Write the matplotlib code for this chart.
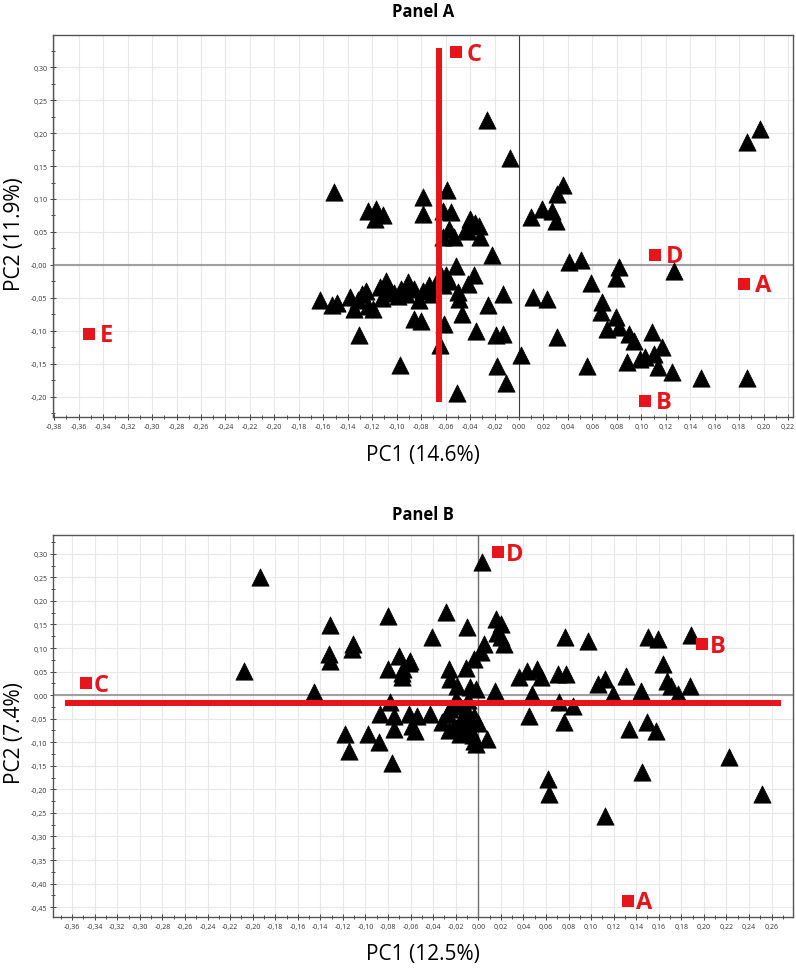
import numpy as np
import matplotlib
matplotlib.use('Agg')
from matplotlib import pyplot as plt
from matplotlib.ticker import MultipleLocator, FuncFormatter

plt.rcParams['font.family'] = ['Open Sans', 'DejaVu Sans']

# ---------------- Panel A data ----------------
a_tri_x = [-0.026, -0.007, 0.197, 0.186, -0.151, -0.1235, -0.117, -0.118, -0.111, -0.0787,
           -0.0787, -0.059, -0.0624, -0.0556, -0.057, -0.062, -0.053, -0.040, -0.0326, -0.042,
           -0.0318, -0.0217, -0.036, 0.0359, 0.0313, 0.019, 0.027, 0.0095, 0.030, 0.0407,
           0.0508, 0.082, 0.0793, 0.1268, 0.0587, 0.0114, 0.0231, -0.0127, -0.0257, 0.068,
           0.0674, 0.0796, 0.072, 0.0815, 0.0896, 0.0937, 0.109, 0.117, 0.110, 0.103,
           0.099, 0.088, 0.114, 0.125, 0.149, 0.1866, 0.0557, 0.0307, 0.002, -0.018,
           -0.011, -0.0507, -0.035, -0.019, -0.0135, -0.0467, -0.061, -0.065, -0.0367, -0.042,
           -0.0516, -0.0597, -0.064, -0.057, -0.050, -0.049, -0.043, -0.0904, -0.0787, -0.0815,
           -0.0855, -0.080, -0.097, -0.131, -0.163, -0.153, -0.149, -0.138, -0.132, -0.135,
           -0.125, -0.1235, -0.119, -0.114, -0.1086, -0.106, -0.099, -0.0964, -0.0855, -0.0665,
           -0.062, -0.128, -0.112, -0.102, -0.092, -0.071, -0.074]
a_tri_y = [0.2205, 0.162, 0.206, 0.186, 0.111, 0.0824, 0.085, 0.070, 0.075, 0.103,
           0.077, 0.113, 0.0824, 0.080, 0.0546, 0.042, 0.042, 0.070, 0.0597, 0.052,
           0.042, 0.015, 0.063, 0.121, 0.108, 0.085, 0.082, 0.072, 0.067, 0.004,
           0.0076, -0.0025, -0.020, -0.0086, -0.027, -0.049, -0.0516, -0.044, -0.061, -0.0557,
           -0.072, -0.079, -0.097, -0.0946, -0.105, -0.115, -0.102, -0.125, -0.135, -0.140,
           -0.143, -0.148, -0.155, -0.162, -0.172, -0.172, -0.154, -0.110, -0.137, -0.154,
           -0.179, -0.194, -0.0997, -0.106, -0.105, -0.074, -0.0895, -0.121, -0.016, -0.029,
           -0.002, -0.016, -0.016, -0.024, -0.041, -0.052, 0.0546, -0.026, -0.039, -0.054,
           -0.082, -0.0845, -0.152, -0.106, -0.054, -0.061, -0.058, -0.049, -0.054, -0.067,
           -0.039, -0.062, -0.067, -0.034, -0.024, -0.039, -0.047, -0.036, -0.036, -0.021,
           -0.031, -0.045, -0.050, -0.042, -0.045, -0.045, -0.030]

a_sq_x = [0.184, 0.103, -0.0516, 0.111, -0.3516]
a_sq_y = [-0.029, -0.206, 0.323, 0.0152, -0.1047]
a_sq_lab = ['A', 'B', 'C', 'D', 'E']
a_line_x = -0.0652
a_line_y = [-0.208, 0.330]

# ---------------- Panel B data ----------------
b_tri_x = [0.0036, 0.189, -0.0285, -0.0098, -0.041, 0.0154, 0.0199, 0.0169, 0.0228, 0.005,
           0.002, -0.004, -0.0113, -0.026, -0.0247, -0.0187, -0.0069, -0.0024, 0.0145, -0.0603,
           -0.0663, 0.0769, 0.097, 0.1505, 0.159, 0.164, 0.167, 0.171, 0.177, 0.1876,
           0.036, 0.0436, 0.0525, 0.0555, 0.0704, 0.0778, 0.048, 0.045, 0.0718, 0.0837,
           0.0757, 0.106, 0.112, 0.1194, 0.1312, 0.1446, 0.1336, 0.1497, 0.1573, 0.0615,
           0.063, 0.1125, 0.145, 0.222, 0.2515, -0.1933, -0.2073, -0.1456, -0.1316, -0.1322,
           -0.1316, -0.1108, -0.1123, -0.0796, -0.0707, -0.0618, -0.080, -0.0677, -0.0677, -0.020,
           -0.0781, -0.087, -0.075, -0.0618, -0.0543, -0.043, -0.0743, -0.0588, -0.0558, -0.118,
           -0.0975, -0.0877, -0.1147, -0.0766, -0.032, -0.0276, -0.0217, -0.0158, -0.014, -0.0098,
           -0.0039, -0.0069, -0.0024, 0.008, -0.0158, -0.0128, -0.0039, -0.0247, -0.0158, 0.0199,
           -0.020, -0.005, -0.012, 0.000, -0.026, -0.009]
b_tri_y = [0.283, 0.127, 0.1755, 0.144, 0.1225, 0.161, 0.151, 0.133, 0.108, 0.108,
           0.0906, 0.076, 0.0566, 0.055, 0.034, 0.020, 0.0163, 0.014, 0.009, 0.073,
           0.055, 0.1225, 0.115, 0.1225, 0.120, 0.066, 0.030, 0.020, 0.002, 0.020,
           0.0375, 0.0516, 0.055, 0.0375, 0.0446, 0.0446, 0.002, -0.044, -0.0155, -0.0227,
           -0.0567, 0.0234, 0.034, 0.002, 0.041, 0.009, -0.072, -0.058, -0.0758, -0.178,
           -0.209, -0.256, -0.164, -0.132, -0.210, 0.250, 0.0516, 0.0057, 0.1486, 0.087,
           0.073, 0.108, 0.0977, 0.168, 0.0835, 0.069, 0.055, 0.048, 0.0375, -0.0085,
           -0.0155, -0.040, -0.044, -0.040, -0.044, -0.040, -0.072, -0.065, -0.076, -0.0834,
           -0.0834, -0.099, -0.118, -0.143, -0.058, -0.040, -0.065, -0.0834, -0.050, -0.033,
           -0.044, -0.072, -0.104, -0.0934, -0.058, -0.079, -0.097, -0.0297, -0.0227, 0.1225,
           -0.070, -0.085, -0.045, -0.060, -0.075, -0.010]

b_sq_x = [0.1326, 0.198, -0.348, 0.0175]
b_sq_y = [-0.437, 0.108, 0.0248, 0.303]
b_sq_lab = ['A', 'B', 'C', 'D']
b_line_y = -0.0177
b_line_x = [-0.366, 0.2687]

RED = '#e8141b'


def fmt(neg_zero=False):
    def f(v, pos):
        if abs(v) < 1e-9:
            return '-0,00' if neg_zero else '0,00'
        return ('%.2f' % v).replace('.', ',')
    return FuncFormatter(f)


def setup_axes(ax, xlim, ylim, neg_zero_y):
    ax.set_xlim(*xlim)
    ax.set_ylim(*ylim)
    ax.xaxis.set_major_locator(MultipleLocator(0.02))
    ax.xaxis.set_minor_locator(MultipleLocator(0.01))
    ax.yaxis.set_major_locator(MultipleLocator(0.05))
    ax.yaxis.set_minor_locator(MultipleLocator(0.025))
    ax.xaxis.set_major_formatter(fmt())
    ax.yaxis.set_major_formatter(fmt(neg_zero_y))
    ax.grid(True, which='major', color='#e8e8e8', lw=0.8, zorder=0)
    ax.set_axisbelow(True)
    ax.tick_params(which='both', direction='inout', length=4, width=0.7,
                   color='#444444', labelsize=5, labelcolor='#333333', pad=2)
    ax.tick_params(which='minor', length=3)
    for s in ax.spines.values():
        s.set_color('#555555')
        s.set_linewidth(1.0)


fig = plt.figure(figsize=(7.96, 9.70), dpi=100)

# ---------------- Panel A ----------------
axA = fig.add_axes([53 / 796, 1 - 418 / 970, 740 / 796, 382 / 970])
setup_axes(axA, (-0.381, 0.224), (-0.231, 0.349), True)
axA.axhline(0, color='#a0a0a0', lw=1.5, zorder=1)
axA.axvline(0, color='#404040', lw=0.8, zorder=1)
axA.scatter(a_tri_x, a_tri_y, marker='^', s=155, c='black', edgecolors='black',
            linewidths=0.5, zorder=3)
axA.plot([a_line_x, a_line_x], a_line_y, color=RED, lw=4.3, solid_capstyle='butt', zorder=4)
axA.scatter(a_sq_x, a_sq_y, marker='s', s=85, c=RED, linewidths=0, zorder=5)
for x, y, t in zip(a_sq_x, a_sq_y, a_sq_lab):
    axA.annotate(t, (x, y), xytext=(8, -1), textcoords='offset points', ha='left',
                 va='center', color=RED, fontsize=17, fontweight='bold', zorder=6)

fig.text(423 / 796, 1 - 12 / 970, 'Panel A', ha='center', va='center',
         fontsize=12, fontweight='bold')
fig.text(423 / 796, 1 - 455 / 970, 'PC1 (14.6%)', ha='center', va='center', fontsize=15)
fig.text(15 / 796, 1 - 234 / 970, 'PC2 (11.9%)', ha='center', va='center',
         rotation=90, fontsize=15)

# ---------------- Panel B ----------------
axB = fig.add_axes([53 / 796, 1 - 918 / 970, 740 / 796, 382 / 970])
setup_axes(axB, (-0.377, 0.279), (-0.471, 0.340), False)
axB.axhline(0, color='#a0a0a0', lw=1.5, zorder=1)
axB.axvline(0, color='#707070', lw=1.0, zorder=1)
axB.scatter(b_tri_x, b_tri_y, marker='^', s=155, c='black', edgecolors='black',
            linewidths=0.5, zorder=3)
axB.plot(b_line_x, [b_line_y, b_line_y], color=RED, lw=4.3, solid_capstyle='butt', zorder=4)
axB.scatter(b_sq_x, b_sq_y, marker='s', s=85, c=RED, linewidths=0, zorder=5)
for x, y, t in zip(b_sq_x, b_sq_y, b_sq_lab):
    axB.annotate(t, (x, y), xytext=(6, -1), textcoords='offset points', ha='left',
                 va='center', color=RED, fontsize=17, fontweight='bold', zorder=6)

fig.text(423 / 796, 1 - 515 / 970, 'Panel B', ha='center', va='center',
         fontsize=12, fontweight='bold')
fig.text(423 / 796, 1 - 955 / 970, 'PC1 (12.5%)', ha='center', va='center', fontsize=15)
fig.text(15 / 796, 1 - 733 / 970, 'PC2 (7.4%)', ha='center', va='center',
         rotation=90, fontsize=15)

plt.savefig('out.png', dpi=100, facecolor='white')
print('over')
